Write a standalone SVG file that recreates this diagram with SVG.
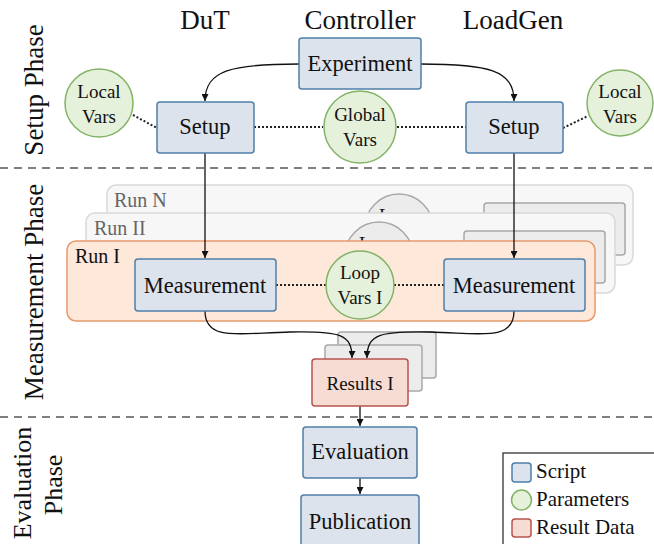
<svg xmlns="http://www.w3.org/2000/svg" width="654" height="544" viewBox="0 0 654 544">
<defs>
<marker id="arr" viewBox="0 0 10 10" refX="10" refY="5" markerWidth="7" markerHeight="7" orient="auto" markerUnits="userSpaceOnUse">
<path d="M0,0 L10,5 L0,10 z" fill="#111"/>
</marker>
<style>
text{font-family:"Liberation Serif","DejaVu Serif",serif;fill:#111;}
.t{font-size:22.5px;text-anchor:middle;}
.c{font-size:19px;text-anchor:middle;}
.hdr{font-size:27px;text-anchor:middle;}
.ph{font-size:27px;text-anchor:middle;}
.script{fill:#dce3ec;stroke:#4f7fa8;stroke-width:1.5;}
.param{fill:#e6f1dc;stroke:#82b366;stroke-width:1.5;}
.res{fill:#f6dcd2;stroke:#b85450;stroke-width:1.5;}
.bgrun{fill:#f7f7f7;stroke:#d9d9d9;stroke-width:1.5;}
.bgbox{fill:#ececec;stroke:#a8a8a8;stroke-width:1.5;}
.bgcirc{fill:#ececec;stroke:#a8a8a8;stroke-width:1.5;}
.grey{fill:#666;}
.dash{stroke:#555;stroke-width:1.5;stroke-dasharray:8,6;fill:none;}
.dot{stroke:#222;stroke-width:2;stroke-dasharray:2,2;fill:none;}
.conn{stroke:#111;stroke-width:1.3;fill:none;marker-end:url(#arr);}
</style>
</defs>

<!-- phase separators -->
<line class="dash" x1="0" y1="168" x2="654" y2="168"/>
<line class="dash" x1="0" y1="417" x2="654" y2="417"/>

<!-- headers and phase labels -->
<text class="hdr" x="205" y="29">DuT</text>
<text class="hdr" x="360" y="29">Controller</text>
<text class="hdr" x="513" y="29">LoadGen</text>
<text class="ph" transform="translate(43,90) rotate(-90)">Setup Phase</text>
<text class="ph" transform="translate(43,292) rotate(-90)">Measurement Phase</text>
<text class="ph" style="font-size:26px" transform="translate(31,483) rotate(-90)">Evaluation</text>
<text class="ph" style="font-size:26px" transform="translate(62,485) rotate(-90)">Phase</text>

<!-- background runs -->
<g id="runN">
<rect class="bgrun" x="107" y="185" width="526" height="80" rx="9"/>
<text x="114" y="207" style="font-size:20px" class="grey">Run N</text>
<circle class="bgcirc" cx="399" cy="228" r="34"/>
<text class="c" x="399" y="222">Loop</text>
<rect class="bgbox" x="484" y="203" width="141" height="52" rx="3"/>
</g>
<g id="runII">
<rect class="bgrun" x="86" y="213" width="529" height="80" rx="9"/>
<text x="94" y="235" style="font-size:20px" class="grey">Run II</text>
<circle class="bgcirc" cx="379" cy="256" r="34"/>
<text class="c" x="379" y="250">Loop</text>
<rect class="bgbox" x="464" y="231" width="141" height="52" rx="3"/>
</g>
<g id="runI">
<rect x="67" y="241" width="528" height="80" rx="9" fill="#fde8da" stroke="#e59a6c" stroke-width="1.5"/>
<text x="75" y="263" style="font-size:20px">Run I</text>
</g>

<!-- results stack -->
<g id="resultsN">
<rect class="bgbox" x="338" y="332" width="98" height="46" rx="3"/>
</g>
<g id="resultsII">
<rect class="bgbox" x="325" y="345" width="97" height="46" rx="3"/>
</g>

<!-- connectors -->
<g id="connectors">
<path class="conn" d="M299,64 C232,64 205,70 205,101"/>
<path class="conn" d="M421,64 C488,64 514,70 514,101"/>
<path class="dot" d="M133,115 L157,128"/>
<path class="dot" d="M254,127 L323,127"/>
<path class="dot" d="M397,127 L466,127"/>
<path class="dot" d="M563,128 L588,116"/>
<path class="conn" d="M205,153 L205,258"/>
<path class="conn" d="M514,153 L514,258"/>
<path class="dot" d="M276,285 L326,285"/>
<path class="dot" d="M394,285 L444,285"/>
<path class="conn" d="M205,311 C205,342 240,333 290,332 C340,331 352,334 352,358"/>
<path class="conn" d="M514,311 C514,342 480,333 430,332 C380,331 367,334 367,358"/>
<path class="conn" d="M360,406 L360,426"/>
<path class="conn" d="M360,478 L360,494"/>
</g>

<!-- nodes -->
<g id="experiment">
<rect class="script" x="299" y="38" width="122" height="51" rx="3"/>
<text class="t" x="360" y="71">Experiment</text>
</g>
<g id="setupDut">
<rect class="script" x="157" y="102" width="97" height="51" rx="3"/>
<text class="t" x="205" y="134">Setup</text>
</g>
<g id="setupLg">
<rect class="script" x="466" y="102" width="97" height="51" rx="3"/>
<text class="t" x="514" y="134">Setup</text>
</g>
<g id="localVarsDut">
<circle class="param" cx="99" cy="103" r="34"/>
<text class="c" x="99" y="98">Local</text>
<text class="c" x="99" y="123">Vars</text>
</g>
<g id="localVarsLg">
<circle class="param" cx="620" cy="103" r="33"/>
<text class="c" x="620" y="98">Local</text>
<text class="c" x="620" y="123">Vars</text>
</g>
<g id="globalVars">
<circle class="param" cx="360" cy="127" r="36"/>
<text class="c" x="360" y="121">Global</text>
<text class="c" x="360" y="146">Vars</text>
</g>
<g id="measDut">
<rect class="script" x="135" y="259" width="141" height="52" rx="3"/>
<text class="t" x="205" y="293">Measurement</text>
</g>
<g id="measLg">
<rect class="script" x="444" y="259" width="141" height="52" rx="3"/>
<text class="t" x="514" y="293">Measurement</text>
</g>
<g id="loopVars">
<circle class="param" cx="360" cy="285" r="34"/>
<text class="c" x="360" y="279">Loop</text>
<text class="c" x="360" y="304">Vars I</text>
</g>
<g id="resultsI">
<rect class="res" x="312" y="359" width="96" height="47" rx="3"/>
<text class="c" x="360" y="390">Results I</text>
</g>
<g id="evaluation">
<rect class="script" x="303" y="427" width="114" height="51" rx="3"/>
<text class="t" x="360" y="459">Evaluation</text>
</g>
<g id="publication">
<rect class="script" x="301" y="495" width="118" height="60" rx="3"/>
<text class="t" x="360" y="529">Publication</text>
</g>

<!-- legend -->
<g id="legend">
<rect x="503" y="453" width="200" height="120" fill="#fff" stroke="#333" stroke-width="1.3"/>
<rect class="script" x="512" y="463" width="19" height="19" rx="3"/>
<text x="536" y="478" style="font-size:21px">Script</text>
<circle class="param" cx="521.5" cy="500" r="10"/>
<text x="536" y="506" style="font-size:21px">Parameters</text>
<rect class="res" x="512" y="519" width="19" height="18" rx="3"/>
<text x="536" y="534" style="font-size:21px">Result Data</text>
</g>
</svg>
